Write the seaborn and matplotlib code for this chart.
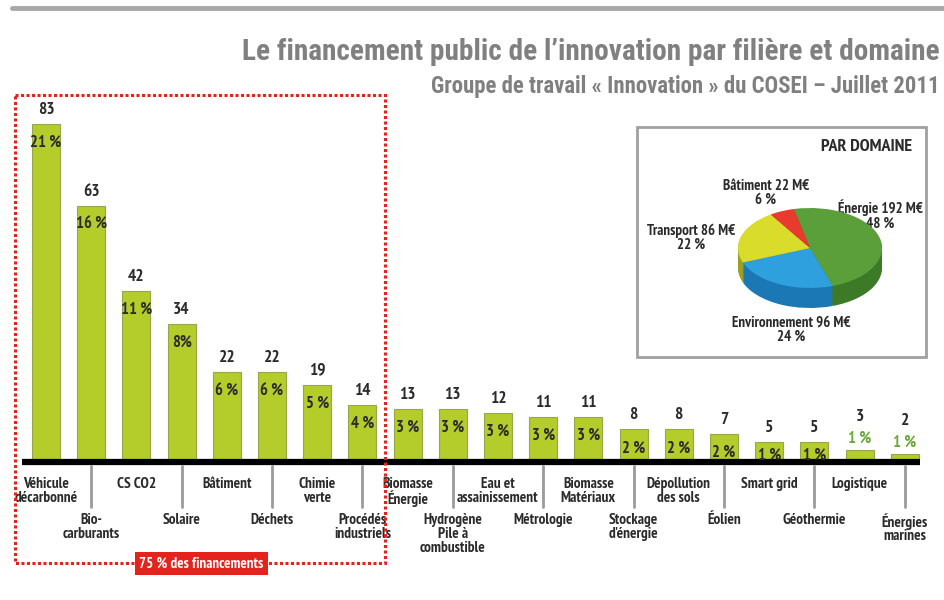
import numpy as np
import pandas as pd
import matplotlib
matplotlib.use("Agg")
import matplotlib.pyplot as plt
import matplotlib.transforms as mtransforms
from matplotlib import font_manager
from matplotlib.patches import Rectangle
import seaborn as sns

# ==============================================================================
# DATA : financement public par filiere (M EUR) et part du total
# ==============================================================================

filieres = ["Véhicule\ndécarbonné", "Bio-\ncarburants", "CS CO2", "Solaire",
            "Bâtiment", "Déchets", "Chimie\nverte", "Procédés\nindustriels",
            "Biomasse\nÉnergie", "Hydrogène\nPile à\ncombustible",
            "Eau et\nassainissement", "Métrologie", "Biomasse\nMatériaux",
            "Stockage\nd'énergie", "Dépollution\ndes sols", "Éolien",
            "Smart grid", "Géothermie", "Logistique", "Énergies\nmarines"]
montants = [83, 63, 42, 34, 22, 22, 19, 14, 13, 13, 12, 11, 11, 8, 8, 7, 5, 5, 3, 2]
parts = [21, 16, 11, 8, 6, 6, 5, 4, 3, 3, 3, 3, 3, 2, 2, 2, 1, 1, 1, 1]

domaines = ["Énergie", "Environnement", "Transport", "Bâtiment"]
domaine_montants = [192, 96, 86, 22]
domaine_parts = [48, 24, 22, 6]

titre = "Le financement public de l\u2019innovation par filière et domaine"
sous_titre = "Groupe de travail « Innovation » du COSEI \u2013 Juillet 2011"

# ==============================================================================
# STYLE
# ==============================================================================

installed = set(f.name for f in font_manager.fontManager.ttflist)

def pick(cands):
    for c in cands:
        if c in installed:
            return c
    return "DejaVu Sans"

body_font = pick(["PT Sans Narrow", "Fira Sans Condensed", "Roboto Condensed",
                  "Archivo Narrow", "Liberation Sans Narrow"])
head_font = pick(["Roboto Condensed", "PT Sans Narrow", "Fira Sans Condensed",
                  "Archivo Narrow", "Liberation Sans Narrow"])

sns.set_style("white")
plt.rcParams['font.family'] = [body_font, 'DejaVu Sans']
plt.rcParams['font.weight'] = 'bold'

bar_green = "#b5cd2b"
txt_dark = "#2b2b2b"
red = "#e3241d"

W, H = 944, 600
fig = plt.figure(figsize=(W / 100, H / 100), dpi=100)

# bar axes: bar i centred at 46 + 45.2 i px, baseline at 462 px, 4.07 px per unit
step, x0, base, ppu = 45.2, 46, 462, 4.07
ax = fig.add_axes([0, 0, 1, 1])
df = pd.DataFrame({"filiere": filieres, "montant": montants})
sns.barplot(data=df, x="filiere", y="montant", ax=ax, color=bar_green,
            saturation=1, width=0.62, edgecolor="#98a64a", linewidth=0.8)
ax.set_xlim(-x0 / step, (W - x0) / step)
ax.set_ylim(-(H - base) / ppu, base / ppu)
ax.axis("off")

# baseline
ax.hlines(0, (22 - x0) / step, (920 - x0) / step, color="black", lw=4.5, zorder=5)

# overlay in pixel coordinates
ov = fig.add_axes([0, 0, 1, 1], facecolor="none")
ov.set_xlim(0, W)
ov.set_ylim(H, 0)
ov.axis("off")
mix = mtransforms.blended_transform_factory(ax.transData, ov.transData)

# values and shares
for i, (v, p) in enumerate(zip(montants, parts)):
    if v <= 3:
        ax.annotate(str(v), (i, v), xytext=(0, 33), textcoords="offset pixels",
                    ha="center", va="center", fontsize=12.5, color=txt_dark)
        ax.annotate(f"{p} %", (i, v), xytext=(0, 11), textcoords="offset pixels",
                    ha="center", va="center", fontsize=12, color="#6aa83a")
    else:
        ax.annotate(str(v), (i, v), xytext=(0, 14), textcoords="offset pixels",
                    ha="center", va="center", fontsize=12.5, color=txt_dark)
        off = min(19, v * ppu - 6)
        lbl = "8%" if p == 8 else f"{p} %"
        ax.annotate(lbl, (i, v), xytext=(0, -off), textcoords="offset pixels",
                    ha="center", va="center", fontsize=12, color=txt_dark, zorder=6)

# category labels, alternating rows
for i, name in enumerate(filieres):
    if i % 2 == 0:
        ax.text(i, 477, name, transform=mix, ha="center", va="top",
                fontsize=11, color=txt_dark, linespacing=0.98)
    else:
        ax.plot([i, i], [466, 507], transform=mix, color="#9a9a9a", lw=2,
                clip_on=False)
        ax.text(i, 513, name, transform=mix, ha="center", va="top",
                fontsize=11, color=txt_dark, linespacing=0.98)

# header
ov.plot([12, W], [8, 8], color="#a8a8a8", lw=3.5)
ov.text(940, 52, titre, ha="right", va="center", fontsize=21.2,
        color="#808080", family=[head_font, "DejaVu Sans"])
ov.text(940, 86, sous_titre, ha="right", va="center", fontsize=16.4,
        color="#808080", family=[head_font, "DejaVu Sans"])

# 75 % frame
ov.add_patch(Rectangle((15, 95), 370, 468, fill=False, ec=red, lw=2.2,
                       ls=(0, (1, 0.8))))
ov.add_patch(Rectangle((135, 552), 133, 23, fc=red, ec="none", zorder=3))
ov.text(201.5, 564, "75 % des financements", ha="center", va="center",
        fontsize=10.8, color="white", zorder=4)

# pie inset box
ov.add_patch(Rectangle((637, 127), 289, 230, fc="white", ec="#a0a0a0", lw=2,
                       zorder=3))
ov.text(912, 147, "PAR DOMAINE", ha="right", va="center", fontsize=13,
        color=txt_dark, zorder=4)

# pseudo-3D pie: radius 1 -> 72 px wide, 41 px tall, depth 20 px
pie_ax = fig.add_axes([738 / W, 1 - 310 / H, 144 / W, 104 / H])
pie_ax.set_zorder(5)
top_cols = ["#5b9f3a", "#2fa0de", "#dadc2c", "#e83a2e"]
side_cols = ["#3d7a27", "#1c78b4", "#9e9f1e", "#a8221b"]
depth = 0.5
for off in np.linspace(depth, 0.02, 14):
    pie_ax.pie(domaine_montants, colors=side_cols, startangle=103,
               counterclock=False, center=(0, -off), radius=1,
               wedgeprops=dict(linewidth=0))
pie_ax.pie(domaine_montants, colors=top_cols, startangle=103,
           counterclock=False, center=(0, 0), radius=1,
           wedgeprops=dict(linewidth=0))
pie_ax.set_aspect("auto")
pie_ax.set_xlim(-1, 1)
pie_ax.set_ylim(-1 - depth - 0.05, 1.05)
pie_ax.axis("off")

pie_pos = {"Énergie": (880, 215), "Environnement": (791, 330),
           "Transport": (691, 238), "Bâtiment": (766, 193)}
for d, m, p in zip(domaines, domaine_montants, domaine_parts):
    px, py = pie_pos[d]
    ov.text(px, py, f"{d} {m} M€\n{p} %", ha="center", va="center",
            fontsize=10.8, color=txt_dark, linespacing=1.0, zorder=6)

fig.savefig("out.png", dpi=100)
